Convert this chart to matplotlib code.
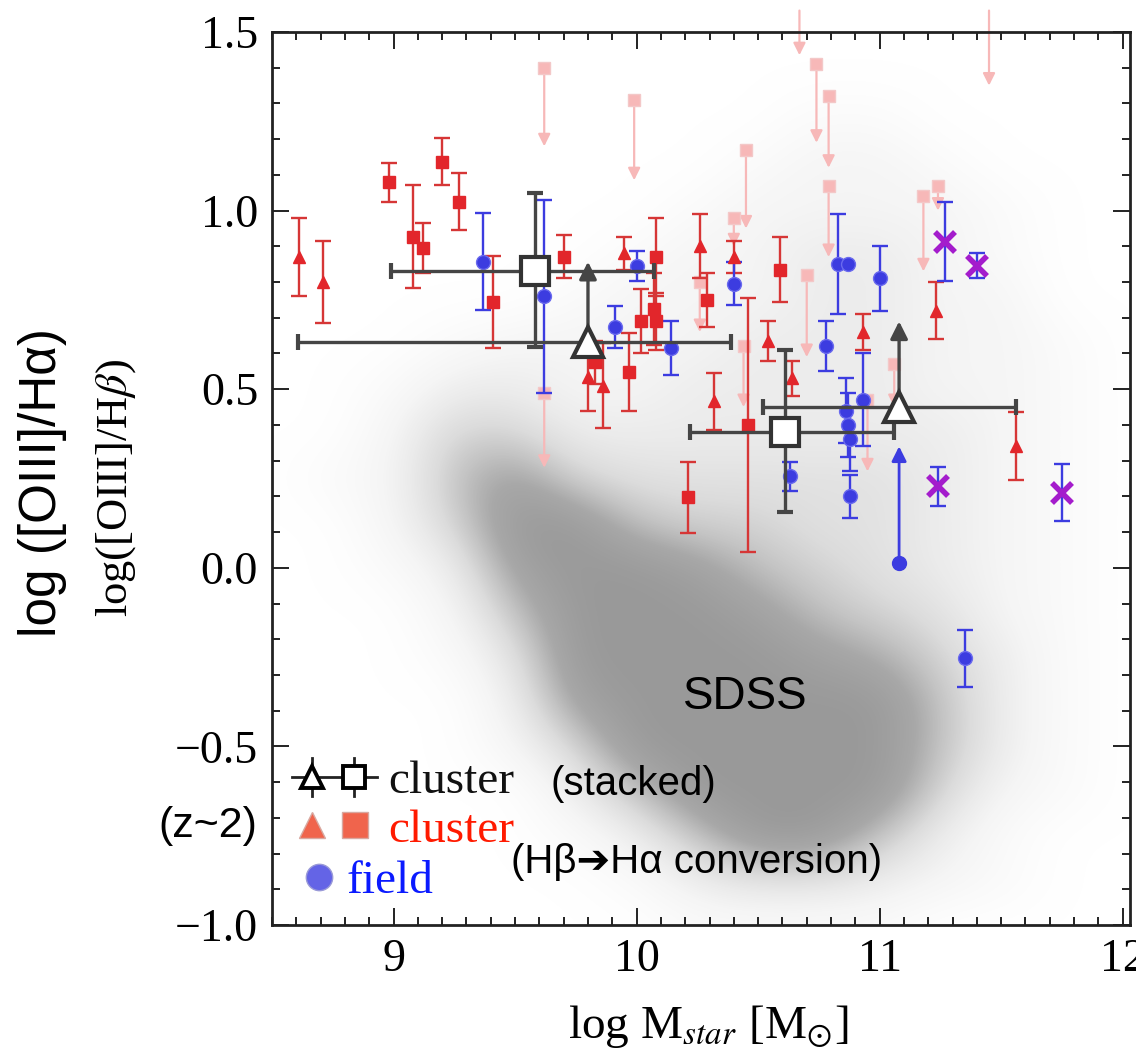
import numpy as np
import matplotlib
matplotlib.use('Agg')
import matplotlib.pyplot as plt
from matplotlib.colors import LinearSegmentedColormap
from matplotlib.ticker import MultipleLocator

plt.rcParams['font.family'] = ['Liberation Serif', 'DejaVu Serif']
plt.rcParams['mathtext.fontset'] = 'stix'
SANS = ['Liberation Sans', 'DejaVu Sans']

# SDSS cloud, density read off the grey points (0 = empty ... 9 = solid grey)
# columns: log M = 8.5 .. 12.0 step 0.25, rows: y = 1.5 .. -1.0 step 0.125
sdss_x = np.arange(8.5, 12.01, 0.25)
sdss_y = np.arange(1.5, -1.01, -0.125)
sdss_rows = [
    "000000000000000",
    "000000000000000",
    "000000000110000",
    "000000001221000",
    "000000012222100",
    "000000122332100",
    "000001222332200",
    "000122223332210",
    "001332233332210",
    "002553333333210",
    "012685444443210",
    "002599655443210",
    "001389986543210",
    "000269998654210",
    "000149999875310",
    "000038999996310",
    "000025999996310",
    "000003699995210",
    "000001369963100",
    "000000134432100",
    "000000011110000",
]
sdss_density = np.array([[int(c) for c in r] for r in sdss_rows], dtype=float)

# z~2 cluster members, Hb -> Ha converted (red)
tri_x = [8.61, 8.71, 9.80, 9.86, 9.95, 10.26, 10.32, 10.40, 10.54, 10.64, 10.93, 11.23, 11.56]
tri_y = [0.87, 0.80, 0.533, 0.51, 0.88, 0.90, 0.466, 0.87, 0.635, 0.53, 0.66, 0.72, 0.34]
tri_e = [0.11, 0.115, 0.095, 0.12, 0.045, 0.09, 0.08, 0.045, 0.055, 0.05, 0.05, 0.08, 0.095]

sq_x = [8.98, 9.08, 9.12, 9.20, 9.27, 9.41, 9.70, 9.83, 9.97, 10.02, 10.07, 10.08, 10.08,
        10.21, 10.29, 10.46, 10.59]
sq_y = [1.079, 0.927, 0.895, 1.137, 1.025, 0.744, 0.871, 0.575, 0.548, 0.69, 0.725, 0.69, 0.87,
        0.197, 0.75, 0.40, 0.835]
sq_e = [0.055, 0.145, 0.07, 0.065, 0.08, 0.13, 0.06, 0.06, 0.11, 0.09, 0.10, 0.08, 0.11,
        0.10, 0.075, 0.355, 0.09]

# z~2 field galaxies (blue)
fld_x = [9.37, 9.62, 9.91, 10.00, 10.14, 10.40, 10.63, 10.78, 10.83, 10.87, 11.00, 10.86,
         10.87, 10.88, 10.88, 10.93, 11.35]
fld_y = [0.857, 0.76, 0.674, 0.846, 0.615, 0.795, 0.256, 0.62, 0.85, 0.85, 0.81, 0.44,
         0.40, 0.36, 0.20, 0.47, -0.253]
fld_e = [0.135, 0.27, 0.06, 0.042, 0.075, 0.06, 0.04, 0.07, 0.14, 0.0, 0.09, 0.09,
         0.09, 0.09, 0.06, 0.13, 0.08]
fld_lim_x = [11.08]
fld_lim_y = [0.014]
fld_lim_tip = [0.34]

# AGN candidates (purple crosses)
agn_x = [11.27, 11.40, 11.24, 11.75]
agn_y = [0.913, 0.846, 0.228, 0.21]
agn_e = [0.11, 0.035, 0.055, 0.08]

# faint upper limits (pink)
lim_x = [9.62, 9.99, 9.62, 10.67, 10.74, 10.79, 10.79, 10.45, 10.40, 10.70, 10.44, 11.18,
         11.24, 11.45, 11.06, 10.95, 10.26]
lim_y = [1.40, 1.31, 0.49, 1.56, 1.41, 1.32, 1.07, 1.17, 0.98, 0.82, 0.62, 1.04,
         1.07, 1.56, 0.57, 0.47, 0.80]
lim_tip = [1.18, 1.085, 0.28, 1.435, 1.19, 1.12, 0.87, 0.95, 0.90, 0.59, 0.45, 0.83,
           1.00, 1.35, 0.45, 0.27, 0.66]

# stacked cluster spectra
stk_sq_x = [9.58, 10.61]
stk_sq_y = [0.832, 0.379]
stk_sq_xlo = [8.99, 10.22]
stk_sq_xhi = [10.07, 11.06]
stk_sq_ylo = [0.618, 0.157]
stk_sq_yhi = [1.048, 0.61]
stk_tri_x = [9.80, 11.08]
stk_tri_y = [0.632, 0.449]
stk_tri_xlo = [8.605, 10.52]
stk_tri_xhi = [10.39, 11.56]
stk_tri_tip = [0.857, 0.69]

RED = '#e2262b'
RED_E = '#d63636'
BLUE = '#3c3ce0'
PINK = '#f7b8b8'
DARK = '#454545'

fig = plt.figure(figsize=(11.36, 10.53), dpi=100)
ax = fig.add_axes([272 / 1136, 128 / 1053, 858 / 1136, 893 / 1053])

cmap = LinearSegmentedColormap.from_list(
    'sdss', [(0.0, '#ffffff'), (0.22, '#f5f5f5'), (0.35, '#ebebeb'), (0.5, '#dcdcdc'),
             (0.65, '#c4c4c4'), (0.8, '#a8a8a8'), (1.0, '#999999')])
dx, dy = 0.125, 0.0625
ax.imshow(sdss_density, extent=(sdss_x[0] - dx, sdss_x[-1] + dx, sdss_y[-1] - dy, sdss_y[0] + dy),
          origin='upper', cmap=cmap, vmin=0, vmax=9, interpolation='bicubic',
          aspect='auto', zorder=0)

# pink upper limits
for x, y, t in zip(lim_x, lim_y, lim_tip):
    ax.annotate('', xy=(x, t), xytext=(x, y),
                arrowprops=dict(arrowstyle='-|>', color=PINK, lw=1.6, shrinkA=0, shrinkB=0,
                                mutation_scale=18), zorder=1, annotation_clip=False)
ax.plot(lim_x, lim_y, 's', ms=8, color=PINK, mec='#f3c8c8', zorder=1)

ek = dict(fmt='none', elinewidth=1.7, capsize=6, capthick=1.7)
ax.errorbar(tri_x, tri_y, yerr=tri_e, ecolor=RED_E, zorder=3, **ek)
ax.errorbar(sq_x, sq_y, yerr=sq_e, ecolor=RED_E, zorder=3, **ek)
ax.plot(tri_x, tri_y, '^', ms=9, color=RED, zorder=4)
ax.plot(sq_x, sq_y, 's', ms=9, color=RED, zorder=4)

ax.errorbar(fld_x, fld_y, yerr=fld_e, ecolor=BLUE, zorder=3, **ek)
ax.plot(fld_x, fld_y, 'o', ms=10, color=BLUE, mec='#6a6aee', zorder=4)
for x, y, t in zip(fld_lim_x, fld_lim_y, fld_lim_tip):
    ax.annotate('', xy=(x, t), xytext=(x, y),
                arrowprops=dict(arrowstyle='-|>', color=BLUE, lw=2, shrinkA=0, shrinkB=0,
                                mutation_scale=22), zorder=3)
ax.plot(fld_lim_x, fld_lim_y, 'o', ms=10, color=BLUE, zorder=4)

ax.errorbar(agn_x, agn_y, yerr=agn_e, ecolor=BLUE, zorder=3, **ek)
ax.plot(agn_x, agn_y, 'x', ms=14, mew=4, color='#a41ccc', zorder=5)

# stacked points
sx, sy = np.array(stk_sq_x), np.array(stk_sq_y)
ax.errorbar(sx, sy, xerr=[sx - stk_sq_xlo, np.array(stk_sq_xhi) - sx],
            yerr=[sy - stk_sq_ylo, np.array(stk_sq_yhi) - sy],
            fmt='none', ecolor=DARK, elinewidth=2.4, capsize=6, capthick=3, zorder=6)
ax.plot(sx, sy, 's', ms=20, mfc='white', mec='#333333', mew=3, zorder=7)
tx, ty = np.array(stk_tri_x), np.array(stk_tri_y)
ax.errorbar(tx, ty, xerr=[tx - stk_tri_xlo, np.array(stk_tri_xhi) - tx],
            fmt='none', ecolor=DARK, elinewidth=2.4, capsize=6, capthick=3, zorder=6)
for x, y, t in zip(stk_tri_x, stk_tri_y, stk_tri_tip):
    ax.annotate('', xy=(x, t), xytext=(x, y),
                arrowprops=dict(arrowstyle='-|>', color=DARK, lw=2.4, shrinkA=0, shrinkB=0,
                                mutation_scale=26), zorder=6)
ax.plot(tx, ty, '^', ms=21, mfc='white', mec='#333333', mew=3, zorder=7)

ax.set_xlim(8.5, 12.03)
ax.set_ylim(-1.0, 1.5)
ax.xaxis.set_major_locator(MultipleLocator(1))
ax.xaxis.set_minor_locator(MultipleLocator(0.1))
ax.yaxis.set_major_locator(MultipleLocator(0.5))
ax.yaxis.set_minor_locator(MultipleLocator(0.1))
ax.tick_params(which='both', direction='in', top=True, right=True, width=1.4,
               labelsize=33, pad=10, color='#222222')
ax.tick_params(which='major', length=12)
ax.tick_params(which='minor', length=6)
for s in ax.spines.values():
    s.set_linewidth(2)
    s.set_color('#222222')

ax.set_xlabel(r'log M$_{star}$ [M$_{\odot}$]', fontsize=34)
ax.xaxis.set_label_coords(0.508, -0.087)
ax.text(-0.182, 0.49, r'log([OIII]/H$\beta$)', transform=ax.transAxes, rotation=90,
        ha='center', va='center', fontsize=32)
ax.text(-0.268, 0.495, 'log ([OIII]/Hα)', transform=ax.transAxes, rotation=90,
        ha='center', va='center', fontsize=37, family=SANS)

ax.text(0.5513, 0.2553, 'SDSS', transform=ax.transAxes, ha='center', va='center',
        fontsize=33, family=SANS, zorder=8)

# legend, drawn by hand
lk = dict(transform=ax.transAxes, clip_on=False, zorder=9)
ax.plot([0.0233, 0.1224], [0.1657, 0.1657], color='#222222', lw=2, **lk)
for xl in (0.0466, 0.0956):
    ax.plot([xl, xl], [0.1444, 0.187], color='#222222', lw=2, **lk)
ax.plot([0.0466], [0.1657], '^', ms=16, mfc='white', mec='black', mew=2.8, **lk)
ax.plot([0.0956], [0.1657], 's', ms=16, mfc='white', mec='black', mew=2.8, **lk)
ax.text(0.1352, 0.1478, 'cluster', transform=ax.transAxes, fontsize=34, color='#111111',
        va='baseline', zorder=9)
ax.plot([0.0466], [0.112], '^', ms=19, color='#f0644c', mec='#d8a8a0', mew=1, **lk)
ax.plot([0.0967], [0.112], 's', ms=19, color='#f0644c', mec='#d8a8a0', mew=1, **lk)
ax.text(0.1352, 0.0929, 'cluster', transform=ax.transAxes, fontsize=34, color='#ff1a00',
        va='baseline', zorder=9)
ax.plot([0.0548], [0.0538], 'o', ms=19, color='#6464e6', mec='#9a9ad8', mew=1, **lk)
ax.text(0.0874, 0.0358, 'field', transform=ax.transAxes, fontsize=34, color='#0a1aff',
        va='baseline', zorder=9)

ax.text(0.4207, 0.1579, '(stacked)', transform=ax.transAxes, ha='center', va='center',
        fontsize=29, family=SANS, zorder=9)
ax.text(-0.0746, 0.111, '(z~2)', transform=ax.transAxes, ha='center', va='center',
        fontsize=31, family=SANS, zorder=9)
ax.text(0.4953, 0.0705, '(Hβ➔Hα conversion)', transform=ax.transAxes, ha='center',
        va='center', fontsize=29, family=SANS, zorder=9)

fig.savefig('out.png', dpi=100)
